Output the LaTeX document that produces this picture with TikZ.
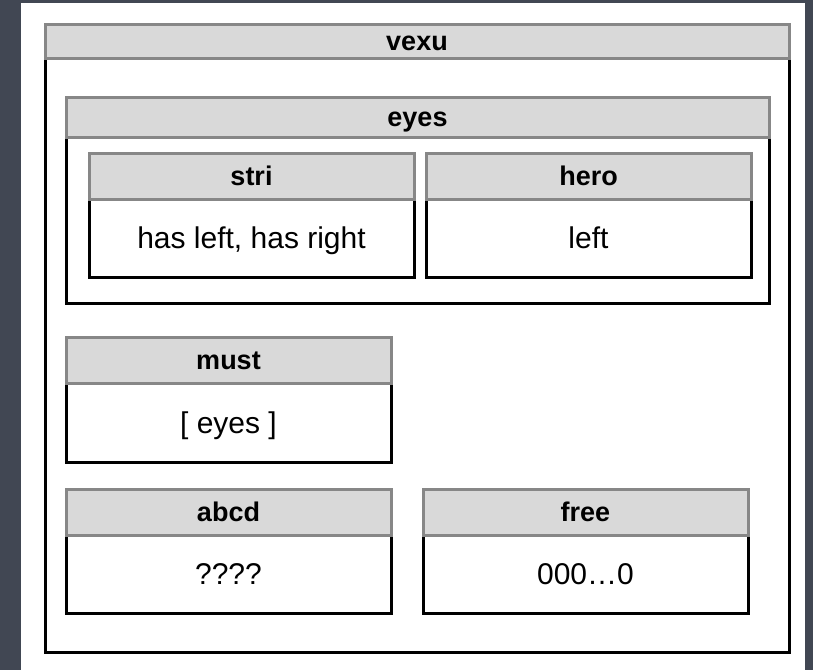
\documentclass[tikz,border=0pt]{standalone}
\usepackage{fontspec}
\setmainfont{Liberation Sans}
\definecolor{bgdark}{HTML}{414753}
\definecolor{hdrfill}{HTML}{D9D9D9}
\definecolor{hdrline}{HTML}{878787}
\tikzset{
  hdr/.style={draw=hdrline, fill=hdrfill, line width=3pt, inner sep=0pt, outer sep=0pt,
    font=\fontsize{27}{31}\selectfont\bfseries, text height=19.4pt, text depth=0.5pt},
  bodybox/.style={draw=black, fill=white, line width=3pt, inner sep=0pt, outer sep=0pt,
    font=\fontsize{30}{34}\selectfont, text height=21.6pt, text depth=0.6pt},
}
% \umlbox{name}{x1}{x2}{yTop}{yMid}{yBot}{title}{body}
\newcommand{\umlbox}[8]{%
  \node[bodybox, minimum width={(#3-#2)*1pt}, minimum height={(#6-#5)*1pt}, anchor=north west]
    (#1body) at (#2,#5) {#8};
  \node[hdr, minimum width={(#3-#2)*1pt}, minimum height={(#5-#4)*1pt}, anchor=north west]
    (#1head) at (#2,#4) {#7};
}
\begin{document}
\begin{tikzpicture}[x=1pt, y=-1pt]
\fill[bgdark] (0,0) rectangle (813,670);
\fill[white] (21,3) rectangle (805,670);
\useasboundingbox (0,0) rectangle (813,670);
\umlbox{vexu}{45}{789}{24}{58}{652}{vexu}{}
\umlbox{eyes}{66}{769}{97}{137}{303}{eyes}{}
\umlbox{stri}{89}{414}{153}{199}{277}{stri}{has left, has right}
\umlbox{hero}{426}{751}{153}{199}{277}{hero}{left}
\umlbox{must}{66}{391}{337}{383}{462}{must}{[ eyes ]}
\umlbox{abcd}{66}{391}{489}{535}{613}{abcd}{????}
\umlbox{free}{423}{748}{489}{535}{613}{free}{000…0}
\end{tikzpicture}
\end{document}
